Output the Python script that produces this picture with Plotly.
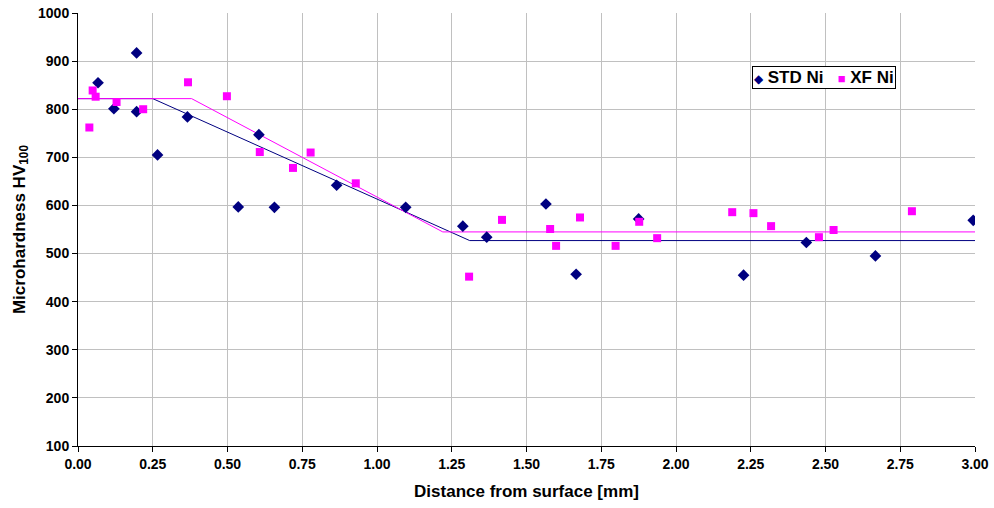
import plotly.graph_objects as go

std_x = [0.067, 0.196, 0.120, 0.196, 0.266, 0.366, 0.605, 0.536, 0.657, 0.865, 1.096,
         1.287, 1.367, 1.565, 1.666, 1.875, 2.226, 2.436, 2.667, 2.994]
std_y = [855, 917, 801, 795, 705, 784, 747, 597, 596, 642, 596,
         557, 534, 603, 457, 572, 455, 523, 495, 569]

xf_x = [0.038, 0.049, 0.059, 0.129, 0.218, 0.368, 0.498, 0.608, 0.719, 0.778, 0.929,
        1.308, 1.418, 1.579, 1.599, 1.679, 1.798, 1.877, 1.937, 2.188, 2.259, 2.318,
        2.478, 2.527, 2.789]
xf_y = [762, 839, 826, 815, 800, 856, 827, 711, 678, 710, 646,
        452, 570, 551, 516, 575, 516, 566, 532, 586, 584, 557,
        534, 549, 588]

std_fit_x = [0.0, 0.25, 1.31, 3.0]
std_fit_y = [822, 822, 527, 527]
xf_fit_x = [0.0, 0.38, 1.22, 3.0]
xf_fit_y = [822, 822, 545, 545]

x_ticks = [i * 0.25 for i in range(13)]
x_ticktext = [f"<b>{v:.2f}</b>" for v in x_ticks]
y_ticks = list(range(100, 1001, 100))
y_ticktext = [f"<b>{v}</b>" for v in y_ticks]

NAVY = "#000080"
MAG = "#FF00FF"
FONT = "Liberation Sans, Arial, sans-serif"

fig = go.Figure()
fig.add_trace(go.Scatter(x=std_fit_x, y=std_fit_y, mode="lines",
                         line=dict(color=NAVY, width=1), showlegend=False, hoverinfo="skip"))
fig.add_trace(go.Scatter(x=xf_fit_x, y=xf_fit_y, mode="lines",
                         line=dict(color=MAG, width=1), showlegend=False, hoverinfo="skip"))
fig.add_trace(go.Scatter(x=std_x, y=std_y, mode="markers", name="STD Ni",
                         marker=dict(symbol="diamond", size=9, color=NAVY), showlegend=False))
fig.add_trace(go.Scatter(x=xf_x, y=xf_y, mode="markers", name="XF Ni",
                         marker=dict(symbol="square", size=8, color=MAG), showlegend=False))

legend_text = (f"<span style='color:{NAVY};font-size:12px'>◆</span> <b>STD Ni</b>&nbsp;&nbsp; "
               f"<span style='color:{MAG};font-size:13px'>■</span> <b>XF Ni</b>")
fig.add_annotation(xref="paper", yref="paper", x=0.7514, y=0.8776,
                   xanchor="left", yanchor="top", showarrow=False,
                   text=legend_text, font=dict(family=FONT, size=17, color="black"),
                   bgcolor="white", bordercolor="black", borderwidth=1, borderpad=1,
                   align="left")

fig.update_layout(
    width=994, height=508,
    margin=dict(l=78, r=19, t=13, b=62),
    paper_bgcolor="white", plot_bgcolor="white",
    font=dict(family=FONT, color="black"),
    showlegend=False,
    xaxis=dict(range=[0, 3], tickvals=x_ticks, ticktext=x_ticktext,
               showgrid=True, gridcolor="#C0C0C0", gridwidth=1,
               showline=True, linecolor="black", linewidth=1,
               ticks="outside", ticklen=5, tickcolor="black",
               tickfont=dict(size=14, family=FONT),
               title=dict(text="<b>Distance from surface [mm]</b>", font=dict(size=17), standoff=14),
               zeroline=False, automargin=False),
    yaxis=dict(range=[100, 1000], tickvals=y_ticks, ticktext=y_ticktext,
               showgrid=True, gridcolor="#C0C0C0", gridwidth=1,
               showline=True, linecolor="black", linewidth=1,
               ticks="outside", ticklen=5, tickcolor="black",
               tickfont=dict(size=14, family=FONT),
               title=dict(text="<b>Microhardness HV<sub>100</sub></b>", font=dict(size=17), standoff=8),
               zeroline=False, automargin=False),
)

fig.write_html("out.html")
